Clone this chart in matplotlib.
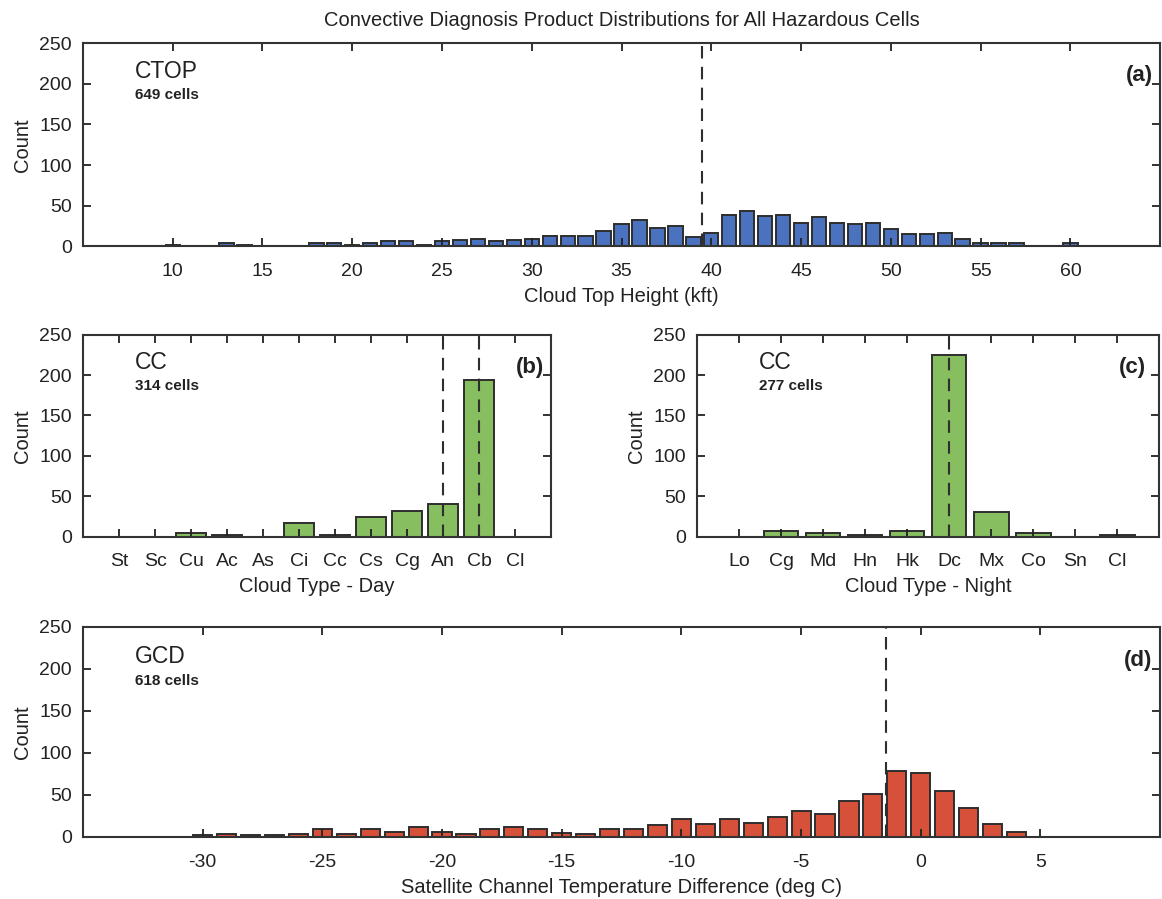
import numpy as np
import matplotlib
matplotlib.use('Agg')
import matplotlib.pyplot as plt

# ---- data ----
# (a) cloud top height histogram, 1 kft bins centred on integers
ctop_kft = [10, 13, 14, 18, 19, 20, 21, 22, 23, 24, 25, 26, 27, 28, 29, 30,
            31, 32, 33, 34, 35, 36, 37, 38, 39, 40, 41, 42, 43, 44, 45, 46,
            47, 48, 49, 50, 51, 52, 53, 54, 55, 56, 57, 60]
ctop_count = [2, 4, 2, 4, 4, 2, 4, 6, 6, 2, 7, 8, 9, 6, 8, 9,
              13, 13, 13, 19, 27, 33, 23, 25, 11, 17, 38, 44, 37, 38, 29, 36,
              29, 27, 29, 21, 15, 15, 17, 9, 4, 4, 4, 4]
ctop_median = 39.5

# (b) cloud type - day
day_types = ['St', 'Sc', 'Cu', 'Ac', 'As', 'Ci', 'Cc', 'Cs', 'Cg', 'An', 'Cb', 'Cl']
day_count = [0, 0, 5, 2, 0, 17, 2, 25, 32, 41, 194, 0]
day_marks = ['An', 'Cb']

# (c) cloud type - night
night_types = ['Lo', 'Cg', 'Md', 'Hn', 'Hk', 'Dc', 'Mx', 'Co', 'Sn', 'Cl']
night_count = [0, 7, 5, 2, 7, 225, 31, 4, 0, 2]
night_marks = ['Dc']

# (d) satellite channel temperature difference, 1 deg bins
gcd_deg = list(range(-30, 5))
gcd_count = [2, 4, 2, 2, 4, 10, 4, 10, 6, 12, 6, 4, 10, 12, 10, 5, 4, 10, 10, 14,
             21, 16, 21, 17, 24, 31, 27, 43, 51, 79, 76, 55, 35, 15, 6]
gcd_median = -1.45

blue = '#4a72bf'
green = '#86be60'
red = '#d6503a'
edge = '#2e2e2e'
txt = '#222222'

plt.rcParams.update({'font.family': 'Liberation Sans', 'font.size': 14,
                     'axes.unicode_minus': False})

fig = plt.figure(figsize=(11.62, 8.99), dpi=100)

def style_axes(ax, xlabel):
    ax.set_ylim(0, 250)
    ax.set_yticks([0, 50, 100, 150, 200, 250])
    ax.tick_params(direction='in', length=6, width=1.3, top=True, right=True,
                   labelsize=14, colors=txt)
    ax.tick_params(axis='x', pad=12)
    ax.tick_params(axis='y', pad=8)
    for s in ax.spines.values():
        s.set_linewidth(1.5)
        s.set_color('#333333')
    ax.set_ylabel('Count', color=txt, fontsize=14.5, labelpad=5)
    ax.set_xlabel(xlabel, color=txt, fontsize=14.5, labelpad=5)

def add_labels(ax, name, cells, tag, x0, tagx):
    ax.text(x0, 0.86, name, transform=ax.transAxes, fontsize=16.5, va='center', color=txt)
    ax.text(x0, 0.745, cells, transform=ax.transAxes, fontsize=11, fontweight='bold',
            va='center', color=txt)
    ax.text(tagx, 0.84, tag, transform=ax.transAxes, fontsize=16, fontweight='bold',
            ha='right', va='center', color=txt)

# Plot (a): cloud top height
ax_a = fig.add_axes([0.0714, 0.726, 0.927, 0.226])
ax_a.bar(ctop_kft, ctop_count, width=0.8, color=blue, edgecolor=edge, linewidth=1.4)
ax_a.axvline(ctop_median, color=edge, linestyle=(0, (6, 4)), linewidth=1.5)
ax_a.set_xlim(5, 65)
ax_a.set_xticks(range(10, 65, 5))
ax_a.set_title('Convective Diagnosis Product Distributions for All Hazardous Cells',
               fontsize=14.5, pad=12, color=txt)
style_axes(ax_a, 'Cloud Top Height (kft)')
add_labels(ax_a, 'CTOP', '649 cells', '(a)', 0.048, 0.993)

# Plot (b): cloud type, day
ax_b = fig.add_axes([0.0714, 0.403, 0.403, 0.2247])
xb = np.arange(1, len(day_types) + 1)
ax_b.bar(xb, day_count, width=0.82, color=green, edgecolor=edge, linewidth=1.4)
for m in day_marks:
    ax_b.axvline(day_types.index(m) + 1, color=edge, linestyle=(0, (6, 4)), linewidth=1.5)
ax_b.set_xlim(0, len(day_types) + 1)
ax_b.set_xticks(xb)
ax_b.set_xticklabels(day_types)
style_axes(ax_b, 'Cloud Type - Day')
add_labels(ax_b, 'CC', '314 cells', '(b)', 0.111, 0.985)

# Plot (c): cloud type, night
ax_c = fig.add_axes([0.5998, 0.403, 0.398, 0.2247])
xc = np.arange(1, len(night_types) + 1)
ax_c.bar(xc, night_count, width=0.82, color=green, edgecolor=edge, linewidth=1.4)
for m in night_marks:
    ax_c.axvline(night_types.index(m) + 1, color=edge, linestyle=(0, (6, 4)), linewidth=1.5)
ax_c.set_xlim(0, len(night_types) + 1)
ax_c.set_xticks(xc)
ax_c.set_xticklabels(night_types)
style_axes(ax_c, 'Cloud Type - Night')
add_labels(ax_c, 'CC', '277 cells', '(c)', 0.134, 0.972)

# Plot (d): GCD temperature difference
ax_d = fig.add_axes([0.0714, 0.069, 0.927, 0.2336])
ax_d.bar(gcd_deg, gcd_count, width=0.8, color=red, edgecolor=edge, linewidth=1.4)
ax_d.axvline(gcd_median, color=edge, linestyle=(0, (6, 4)), linewidth=1.5)
ax_d.set_xlim(-35, 10)
ax_d.set_xticks(range(-30, 10, 5))
style_axes(ax_d, 'Satellite Channel Temperature Difference (deg C)')
add_labels(ax_d, 'GCD', '618 cells', '(d)', 0.048, 0.993)

fig.savefig('out.png', dpi=100)
